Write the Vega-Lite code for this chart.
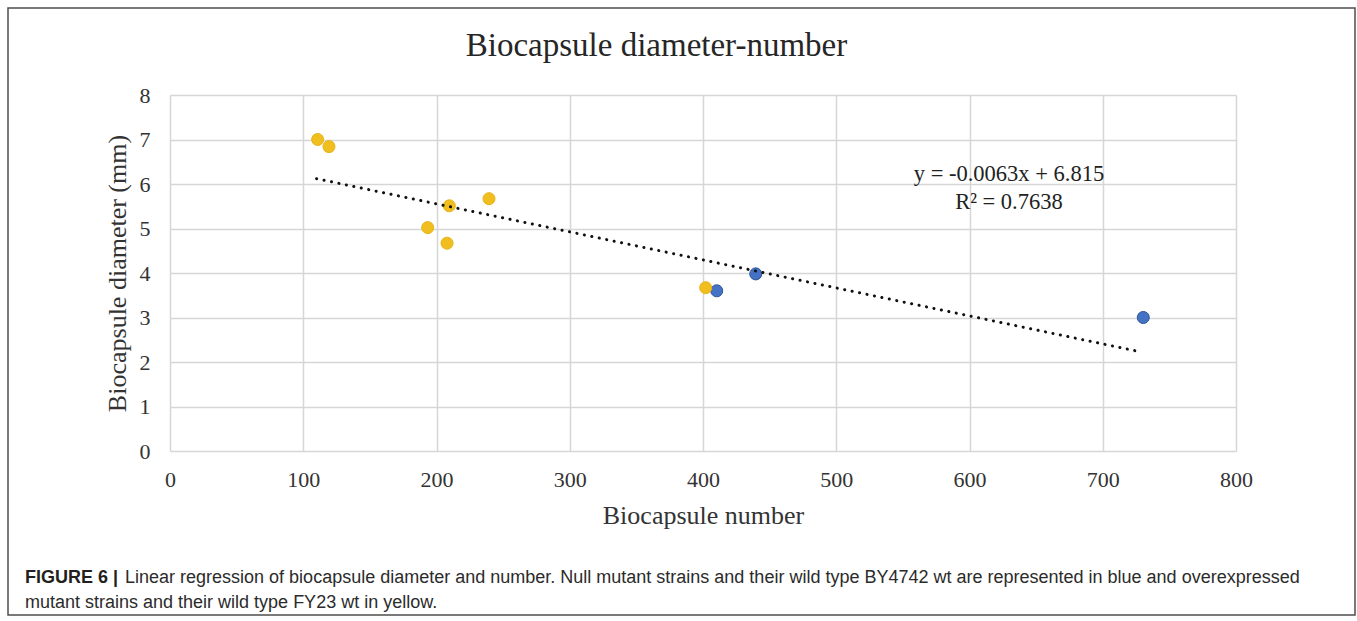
{
  "$schema": "https://vega.github.io/schema/vega-lite/v6.json",
  "width": 1347,
  "height": 607,
  "autosize": {"type": "none"},
  "padding": {"left": 8, "top": 8, "right": 2, "bottom": 6},
  "background": "white",
  "config": {"view": {"stroke": "#4d4d4d", "strokeWidth": 1.5, "fill": "white"}},
  "title": {
    "text": "FIGURE 6 |",
    "subtitle": ["\u200b\u00a0\u00a0\u00a0\u00a0\u00a0\u00a0\u00a0\u00a0\u00a0\u00a0\u00a0\u00a0\u00a0\u00a0\u00a0\u00a0\u00a0\u00a0\u00a0\u00a0Linear regression of biocapsule diameter and number. Null mutant strains and their wild type BY4742 wt are represented in blue and overexpressed", "mutant strains and their wild type FY23 wt in yellow."],
    "orient": "bottom",
    "anchor": "start",
    "frame": "group",
    "offset": 0,
    "font": "Liberation Sans",
    "fontSize": 18,
    "fontWeight": "bold",
    "color": "#231f20",
    "baseline": "top",
    "subtitleFont": "Liberation Sans",
    "subtitleFontSize": 18,
    "subtitleFontWeight": "normal",
    "subtitleColor": "#2b2b2b",
    "subtitleLineHeight": 25,
    "subtitlePadding": -18,
    "dx": 17,
    "dy": -46
  },
  "resolve": {"axis": {"x": "independent"}},
  "layer": [
    {
      "data": {"values": [
        {"number": 410.3, "diameter": 3.60, "strain": "Null mutants and BY4742 wt"},
        {"number": 439.6, "diameter": 3.98, "strain": "Null mutants and BY4742 wt"},
        {"number": 730.4, "diameter": 3.00, "strain": "Null mutants and BY4742 wt"},
        {"number": 110.8, "diameter": 7.00, "strain": "Overexpressed mutants and FY23 wt"},
        {"number": 119.3, "diameter": 6.84, "strain": "Overexpressed mutants and FY23 wt"},
        {"number": 193.4, "diameter": 5.02, "strain": "Overexpressed mutants and FY23 wt"},
        {"number": 207.9, "diameter": 4.67, "strain": "Overexpressed mutants and FY23 wt"},
        {"number": 209.6, "diameter": 5.51, "strain": "Overexpressed mutants and FY23 wt"},
        {"number": 239.4, "diameter": 5.67, "strain": "Overexpressed mutants and FY23 wt"},
        {"number": 402.0, "diameter": 3.67, "strain": "Overexpressed mutants and FY23 wt"}
      ]},
      "mark": {"type": "circle", "size": 145, "opacity": 1, "strokeWidth": 1},
      "encoding": {
        "x": {
          "field": "number", "type": "quantitative",
          "scale": {"domain": [0, 800], "range": [162, 1228], "nice": false, "zero": false},
          "axis": {
            "orient": "bottom",
            "values": [0, 100, 200, 300, 400, 500, 600, 700, 800],
            "format": "d",
            "grid": false, "domain": false, "ticks": false,
            "offset": -164,
            "labelPadding": 35, "labelBaseline": "alphabetic",
            "labelFont": "Liberation Serif", "labelFontSize": 22, "labelColor": "#333333",
            "labelFlush": false, "labelOverlap": false,
            "title": "Biocapsule number",
            "titleFont": "Liberation Serif", "titleFontSize": 26, "titleFontWeight": "normal", "titleColor": "#333333",
            "titleY": 72, "titleBaseline": "alphabetic"
          }
        },
        "y": {
          "field": "diameter", "type": "quantitative",
          "scale": {"domain": [0, 8], "range": [443, 87], "nice": false, "zero": false},
          "axis": {
            "values": [0, 1, 2, 3, 4, 5, 6, 7, 8],
            "format": "d",
            "grid": true, "gridColor": "#d6d6d6", "gridWidth": 1.5,
            "domain": false, "ticks": false,
            "offset": -162,
            "labelPadding": 20,
            "labelFont": "Liberation Serif", "labelFontSize": 22, "labelColor": "#333333",
            "labelFlush": false, "labelOverlap": false,
            "title": "Biocapsule diameter (mm)",
            "titleFont": "Liberation Serif", "titleFontSize": 26, "titleFontWeight": "normal", "titleColor": "#333333",
            "titleAngle": 270, "titleX": -45, "titleBaseline": "alphabetic", "titleAlign": "center"
          }
        },
        "color": {
          "field": "strain", "type": "nominal",
          "scale": {"domain": ["Null mutants and BY4742 wt", "Overexpressed mutants and FY23 wt"], "range": ["#4472C4", "#F1BE1F"]},
          "legend": null
        },
        "stroke": {
          "field": "strain", "type": "nominal",
          "scale": {"domain": ["Null mutants and BY4742 wt", "Overexpressed mutants and FY23 wt"], "range": ["#2F5597", "#E6B41A"]},
          "legend": null
        }
      }
    },
    {
      "data": {"values": [
        {"number": 110, "diameter": 6.12},
        {"number": 728, "diameter": 2.23}
      ]},
      "mark": {"type": "line", "color": "#111111", "strokeWidth": 3, "strokeDash": [0.1, 7.5], "strokeCap": "round"},
      "encoding": {
        "x": {"field": "number", "type": "quantitative", "axis": null},
        "y": {"field": "diameter", "type": "quantitative"}
      }
    },
    {
      "data": {"values": [
        {"number": 629.6, "diameter": 6.07, "label": "y = -0.0063x + 6.815\nR² = 0.7638"}
      ]},
      "mark": {"type": "text", "align": "center", "baseline": "alphabetic", "lineBreak": "\n", "lineHeight": 28, "font": "Liberation Serif", "fontSize": 22.5, "color": "#222222"},
      "encoding": {
        "x": {
          "field": "number", "type": "quantitative",
          "axis": {
            "orient": "top",
            "values": [0, 100, 200, 300, 400, 500, 600, 700, 800],
            "grid": true, "gridColor": "#d6d6d6", "gridWidth": 1.5,
            "labels": false, "ticks": false, "domain": false,
            "title": "Biocapsule diameter-number",
            "titleFont": "Liberation Serif", "titleFontSize": 33, "titleFontWeight": "normal", "titleColor": "#262626",
            "titleX": 648, "titleY": 47, "titleBaseline": "alphabetic", "titleAlign": "center"
          }
        },
        "y": {"field": "diameter", "type": "quantitative"},
        "text": {"field": "label"}
      }
    }
  ]
}
